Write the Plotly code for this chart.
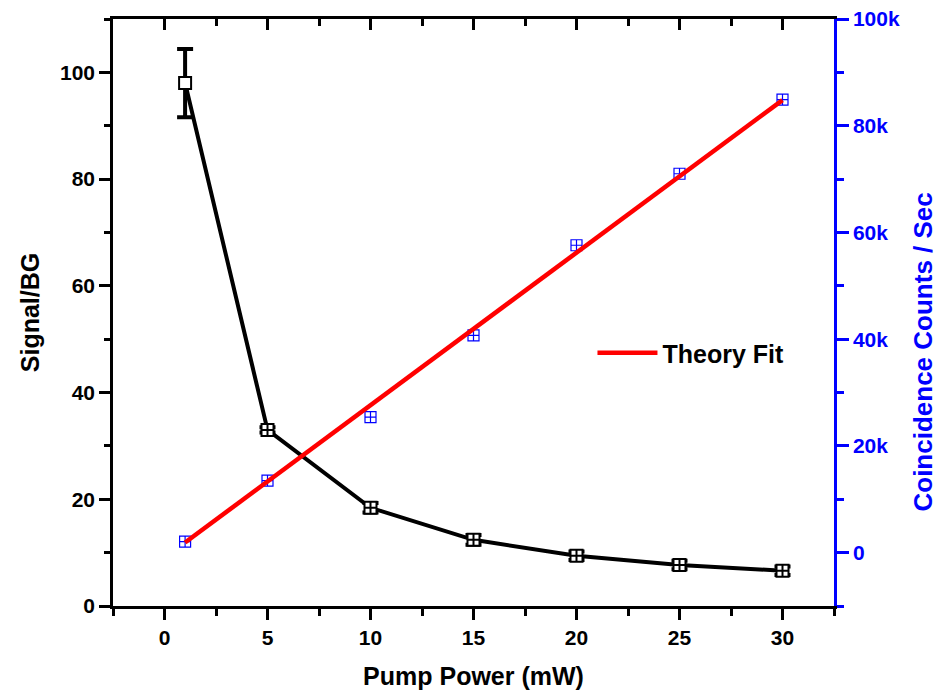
import plotly.graph_objects as go

# Data
pump_power = [1, 5, 10, 15, 20, 25, 30]
signal_bg = [98, 33, 18.4, 12.4, 9.4, 7.7, 6.6]
signal_bg_err = [6.4, 0.5, 0.9, 0.9, 0.8, 0.8, 0.8]
coinc_counts = [2060, 13500, 25400, 40700, 57600, 71000, 84900]
fit_x = [1, 30]
fit_y = [1900, 84800]

x_ticks = [0, 5, 10, 15, 20, 25, 30]
y_ticks = [0, 20, 40, 60, 80, 100]
y2_ticks = [0, 20000, 40000, 60000, 80000, 100000]
y2_labels = ["0", "20k", "40k", "60k", "80k", "100k"]

FONT = "Liberation Sans, Arial, sans-serif"
BLUE = "#0000ff"

fig = go.Figure()

fig.add_trace(go.Scatter(
    x=pump_power, y=signal_bg, mode="lines+markers",
    line=dict(color="black", width=4),
    marker=dict(symbol=["square"] + ["square-cross"] * 6, size=12,
                color="white", line=dict(color="black", width=2)),
    error_y=dict(type="data", array=signal_bg_err, visible=True,
                 color="black", thickness=4, width=8),
    showlegend=False, xaxis="x", yaxis="y",
))

fig.add_trace(go.Scatter(
    x=pump_power, y=coinc_counts, mode="markers",
    marker=dict(symbol="square-cross-open", size=11, color=BLUE,
                line=dict(color=BLUE, width=1.2)),
    showlegend=False, xaxis="x2", yaxis="y2",
))

fig.add_trace(go.Scatter(
    x=fit_x, y=fit_y, mode="lines", name="Theory Fit",
    line=dict(color="#ff0000", width=4.5),
    showlegend=True, xaxis="x2", yaxis="y2",
))

tickfont = dict(family=FONT, size=21, color="black", weight="bold")
titlefont = dict(family=FONT, size=25, color="black", weight="bold")

fig.update_layout(
    width=942, height=694,
    margin=dict(l=105, r=116, t=11, b=96, autoexpand=False),
    paper_bgcolor="white", plot_bgcolor="white",
    font=dict(family=FONT),
    xaxis=dict(
        range=[-2.5, 32.5], tickvals=x_ticks, ticks="outside", ticklen=11,
        tickwidth=2.5, tickcolor="black", showline=True, linecolor="black",
        linewidth=2.5, showgrid=False, zeroline=False, tickfont=tickfont,
        ticklabeloverflow="allow",
        minor=dict(dtick=2.5, ticks="outside", ticklen=7, tickwidth=2.5,
                   tickcolor="black", showgrid=False),
        title=dict(text="Pump Power (mW)", standoff=20, font=titlefont),
    ),
    xaxis2=dict(
        range=[-2.5, 32.5], overlaying="x", side="top", tickvals=x_ticks,
        ticks="inside", ticklen=11, tickwidth=2.5, tickcolor="black",
        showline=True, linecolor="black", linewidth=2.5, showgrid=False,
        zeroline=False, showticklabels=False,
        minor=dict(dtick=2.5, ticks="inside", ticklen=7, tickwidth=2.5,
                   tickcolor="black", showgrid=False),
    ),
    yaxis=dict(
        range=[0, 110], tickvals=y_ticks, ticks="outside", ticklen=11,
        tickwidth=2.5, tickcolor="black", showline=True, linecolor="black",
        linewidth=2.5, showgrid=False, zeroline=False, tickfont=tickfont,
        ticklabeloverflow="allow",
        minor=dict(dtick=10, ticks="outside", ticklen=6, tickwidth=2.5,
                   tickcolor="black", showgrid=False),
        title=dict(text="Signal/BG", standoff=14, font=titlefont),
    ),
    yaxis2=dict(
        range=[-10000, 100000], overlaying="y", side="right",
        tickvals=y2_ticks, ticktext=y2_labels, ticks="outside", ticklen=12,
        tickwidth=2.5, tickcolor=BLUE, showline=True, linecolor=BLUE,
        linewidth=2.5, showgrid=False, zeroline=False,
        ticklabeloverflow="allow",
        tickfont=dict(family=FONT, size=21, color=BLUE, weight="bold"),
        minor=dict(dtick=10000, ticks="outside", ticklen=7, tickwidth=2.5,
                   tickcolor=BLUE, showgrid=False),
    ),
    annotations=[dict(
        text="Coincidence Counts / Sec", textangle=-90,
        xref="paper", yref="paper", x=1.123, y=0.433,
        xanchor="center", yanchor="middle", showarrow=False,
        font=dict(family=FONT, size=26, color=BLUE, weight="bold"),
    )],
    legend=dict(x=0.665, y=0.431, xanchor="left", yanchor="middle",
                itemwidth=60, bgcolor="rgba(0,0,0,0)",
                font=dict(family=FONT, size=25, color="black", weight="bold")),
)

fig.write_html("out.html")
